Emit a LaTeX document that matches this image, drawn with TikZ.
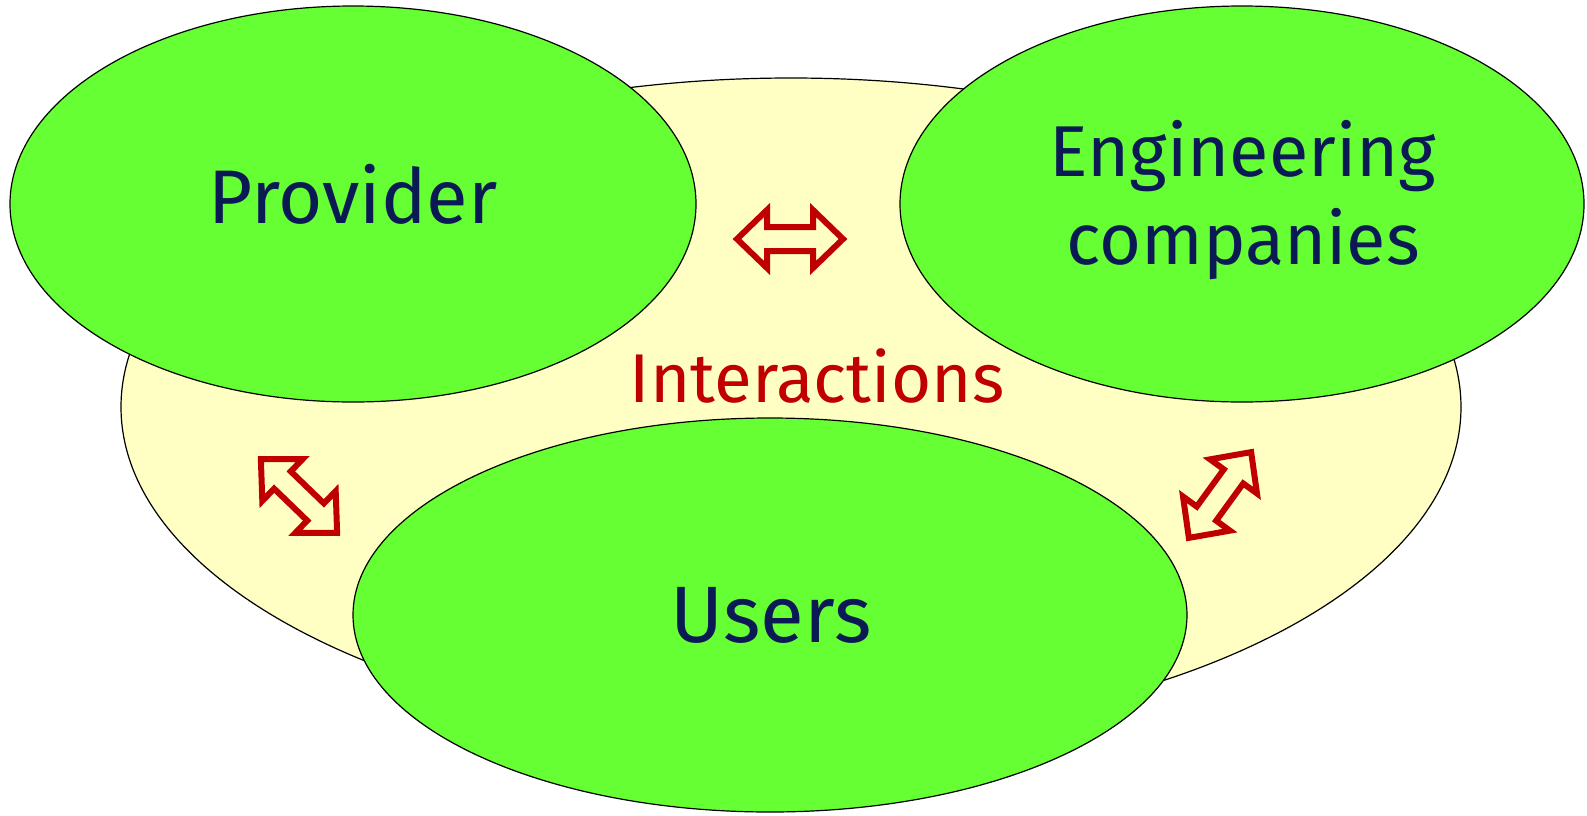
\documentclass[tikz,border=0pt]{standalone}
\usepackage{fontspec}
\setmainfont{Fira Sans}
\definecolor{bgyellow}{HTML}{FFFFC4}
\definecolor{party}{HTML}{66FF33}
\definecolor{navy}{HTML}{0B1A55}
\definecolor{darkred}{HTML}{C00000}
\tikzset{
  party/.style={draw=black, line width=0.6pt, fill=party},
  plabel/.style={text=navy, align=center},
  darrow/.pic={
    \draw[line width=3pt, draw=darkred, fill=bgyellow, line join=miter]
      (-53,0) -- (-23,-29) -- (-23,-12) -- (23,-12) -- (23,-29) -- (53,0)
      -- (23,29) -- (23,12) -- (-23,12) -- (-23,29) -- cycle;
  }
}
\begin{document}
\begin{tikzpicture}[x=0.5pt, y=-0.5pt]
\useasboundingbox (0,0) rectangle (1587,815);
\path[draw=black, line width=0.6pt, fill=bgyellow] (791,407) ellipse [x radius=670, y radius=329];
\path[party] (353,204) ellipse [x radius=343, y radius=198];
\path[party] (1242,204) ellipse [x radius=342, y radius=198];
\path[party] (770,615) ellipse [x radius=417, y radius=197];
\node[plabel, font=\fontsize{38}{44}\selectfont] (prov) at (353,194) {Provider};
\node[plabel, font=\fontsize{36}{44}\selectfont] (eng) at (1243,200) {Engineering\\companies};
\node[plabel, font=\fontsize{40}{46}\selectfont] (users) at (771,615) {Users};
\node[text=darkred, font=\fontsize{34.5}{40}\selectfont] (inter) at (817,376) {Interactions};
\pic at (790,239) {darrow};
\pic[rotate=-44] at (299,496) {darrow};
\pic[rotate=54] at (1220,495) {darrow};
\end{tikzpicture}
\end{document}
